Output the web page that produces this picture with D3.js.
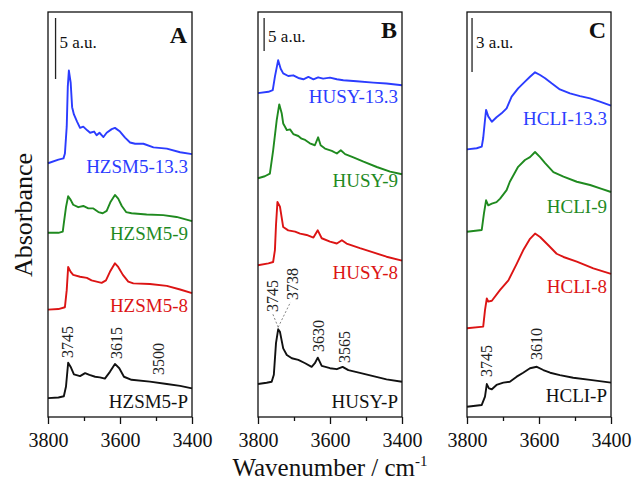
<!DOCTYPE html>
<html>
<head>
<meta charset="utf-8">
<script src="https://cdn.jsdelivr.net/npm/d3@7"></script>
<style>
  html, body { margin: 0; padding: 0; background: #fff; }
  svg { display: block; font-family: "Liberation Serif", "Times New Roman", serif; }
</style>
</head>
<body>
<svg id="chart" width="633" height="481"></svg>
<script>
// ---------------- DATA ----------------
const panelLetters = ["A", "B", "C"];
const majorTicks = [3800, 3600, 3400];
const minorTicks = [3700, 3500];
const scaleBarValues = [5, 5, 3];

const namesA = ["HZSM5-13.3", "HZSM5-9", "HZSM5-8", "HZSM5-P"];
const namesB = ["HUSY-13.3", "HUSY-9", "HUSY-8", "HUSY-P"];
const namesC = ["HCLI-13.3", "HCLI-9", "HCLI-8", "HCLI-P"];

// [wavenumber (cm-1), absorbance (a.u., stacked)]
const hzsm5_133 = [[3800,20.8],[3771,21.1],[3757,21.2],[3753,21.6],[3748,23.8],[3745,27.1],[3742,28.4],[3737,27.4],[3733,25.4],[3728,24.8],[3719,24.2],[3711,23.7],[3702,23.8],[3691,23.5],[3683,23.3],[3672,23.4],[3665,23.1],[3657,23.3],[3646,22.95],[3637,23.3],[3623,23.6],[3614,23.7],[3600,23.4],[3586,22.9],[3572,22.5],[3558,22.4],[3535,22.4],[3507,22.1],[3470,22.0],[3433,21.7],[3400,21.55]];
const hzsm5_9 = [[3800,15.1],[3771,15.1],[3759,15.2],[3756,15.9],[3750,17.2],[3744,18.1],[3737,17.8],[3730,17.4],[3716,17.2],[3702,17.3],[3688,17.1],[3674,17.1],[3660,16.8],[3648,16.7],[3637,16.9],[3626,17.65],[3614,18.2],[3605,17.9],[3595,17.3],[3583,16.8],[3568,16.7],[3526,16.6],[3480,16.55],[3443,16.4],[3400,16.05]];
const hzsm5_8 = [[3800,8.8],[3771,8.85],[3753,9.0],[3748,10.4],[3744,12.3],[3737,11.9],[3730,11.65],[3711,11.5],[3692,11.4],[3679,11.2],[3665,11.1],[3651,11.0],[3639,11.2],[3628,11.9],[3614,12.6],[3605,12.3],[3592,11.65],[3577,11.1],[3563,10.95],[3517,10.9],[3470,10.75],[3433,10.45],[3400,10.15]];
const hzsm5_p = [[3800,1.55],[3771,1.6],[3756,1.7],[3750,2.5],[3744,4.45],[3737,4.1],[3728,3.5],[3711,3.35],[3697,3.6],[3685,3.45],[3669,3.3],[3656,3.25],[3642,3.15],[3628,3.7],[3614,4.35],[3602,4.0],[3589,3.3],[3568,3.05],[3517,2.9],[3470,2.7],[3433,2.55],[3400,2.35]];

const husy_133 = [[3800,49.1],[3771,49.3],[3759,49.55],[3753,51.6],[3744,54.1],[3737,52.8],[3730,52.1],[3716,51.7],[3702,51.8],[3688,51.4],[3674,51.2],[3660,51.55],[3646,51.2],[3633,51.5],[3619,51.3],[3600,51.45],[3581,51.2],[3563,51.05],[3526,50.9],[3480,50.7],[3443,50.55],[3400,50.3]];
const husy_9 = [[3800,36.2],[3781,36.5],[3767,36.9],[3758,40.4],[3748,45.0],[3741,47.4],[3734,46.0],[3730,44.5],[3720,43.5],[3711,43.6],[3702,42.9],[3688,42.6],[3679,42.2],[3669,42.0],[3656,41.5],[3642,41.2],[3633,42.4],[3626,41.2],[3614,40.7],[3595,40.35],[3581,39.95],[3570,40.45],[3558,39.85],[3535,39.35],[3507,38.7],[3470,37.9],[3433,37.2],[3400,36.8]];
const husy_8 = [[3800,23.0],[3771,23.3],[3758,23.5],[3753,25.3],[3750,29.1],[3746,32.6],[3739,31.9],[3730,28.8],[3716,28.3],[3697,28.1],[3683,27.8],[3665,27.6],[3646,27.2],[3634,28.3],[3623,27.1],[3600,26.6],[3581,26.3],[3567,26.8],[3554,26.3],[3517,25.6],[3480,24.95],[3443,24.3],[3400,23.7]];
const husy_p = [[3800,5.0],[3776,5.2],[3762,5.35],[3756,6.4],[3750,11.2],[3744,13.3],[3739,12.9],[3730,10.4],[3720,9.4],[3706,8.9],[3688,8.65],[3669,8.15],[3651,7.6],[3642,8.15],[3634,9.0],[3623,7.75],[3600,7.4],[3581,7.25],[3565,7.6],[3549,7.1],[3517,6.7],[3480,6.2],[3443,5.7],[3400,5.35]];

const hcli_133 = [[3800,14.87],[3773,14.93],[3759,15.02],[3755,15.5],[3750,16.5],[3747,17.06],[3741,16.7],[3731,16.4],[3718,16.65],[3704,16.87],[3690,17.15],[3676,17.8],[3658,18.26],[3639,18.63],[3625,18.9],[3611,19.15],[3597,19.0],[3583,18.82],[3565,18.54],[3542,18.2],[3514,17.98],[3486,17.83],[3458,17.7],[3431,17.52],[3400,17.3]];
const hcli_9 = [[3800,10.29],[3759,10.39],[3753,11.3],[3747,12.04],[3741,11.76],[3731,11.85],[3718,11.94],[3708,12.13],[3690,12.6],[3681,13.07],[3658,13.9],[3639,14.28],[3625,14.44],[3611,14.72],[3597,14.44],[3583,14.11],[3560,13.61],[3532,13.35],[3495,13.07],[3458,12.89],[3426,12.67],[3400,12.5]];
const hcli_8 = [[3800,4.93],[3755,5.02],[3750,5.94],[3745,6.59],[3741,6.41],[3731,6.46],[3708,7.06],[3685,7.59],[3662,8.51],[3644,9.26],[3625,9.9],[3611,10.19],[3597,10.0],[3574,9.54],[3551,9.07],[3532,8.89],[3495,8.63],[3449,8.26],[3400,7.95]];
const hcli_p = [[3800,0.57],[3759,0.67],[3750,1.13],[3745,1.83],[3739,1.59],[3731,1.54],[3718,1.78],[3699,1.91],[3681,1.96],[3662,2.24],[3644,2.46],[3625,2.71],[3606,2.79],[3588,2.61],[3569,2.46],[3542,2.33],[3505,2.18],[3458,2.06],[3400,1.91]];

const seriesA = [hzsm5_133, hzsm5_9, hzsm5_8, hzsm5_p];
const seriesB = [husy_133, husy_9, husy_8, husy_p];
const seriesC = [hcli_133, hcli_9, hcli_8, hcli_p];

// peak annotations (wavenumber label)
const peaksA = ["3745", "3615", "3500"];
const peaksB = ["3745", "3738", "3630", "3565"];
const peaksC = ["3745", "3610"];

// ---------------- LAYOUT / STYLE ----------------
const colors = ["#2b3cff", "#1f8a1f", "#dc1414", "#111111"];
const panelsLayout = [
  { left: 48,  yMax: 33.2, names: namesA, series: seriesA, peaks: peaksA,
    peakX: [3745, 3610, 3493], peakBottom: [358, 359, 375],
    labelY: [173, 240, 312, 408], barWn: 3779, barTextDx: 4, letterY: 43 },
  { left: 258, yMax: 61.4, names: namesB, series: seriesB, peaks: peaksB,
    peakX: [3760, 3704, 3632, 3560], peakBottom: [312, 300, 352, 363],
    labelY: [103, 187, 279, 408], barWn: 3783, barTextDx: 4, letterY: 38 },
  { left: 467, yMax: 22.5, names: namesC, series: seriesC, peaks: peaksC,
    peakX: [3747, 3608], peakBottom: [377, 360],
    labelY: [125, 213, 293, 402], barWn: 3786, barTextDx: 4, letterY: 38 }
];
const frameTop = 12, frameHeight = 405, frameWidth = 144;

const svg = d3.select("#chart");

panelsLayout.forEach((p, i) => {
  const x = d3.scaleLinear().domain([3800, 3400]).range([p.left, p.left + frameWidth]);
  const y = d3.scaleLinear().domain([0, p.yMax]).range([frameTop + frameHeight, frameTop]);
  const g = svg.append("g");

  // curves
  const line = d3.line().x(d => x(d[0])).y(d => y(d[1])).curve(d3.curveLinear);
  p.series.forEach((s, j) => {
    g.append("path").datum(s)
      .attr("d", line)
      .attr("fill", "none")
      .attr("stroke", colors[j])
      .attr("stroke-width", 1.9)
      .attr("stroke-linejoin", "round");
  });

  // series labels
  p.names.forEach((n, j) => {
    g.append("text")
      .attr("x", p.left + frameWidth - 4)
      .attr("y", p.labelY[j])
      .attr("text-anchor", "end")
      .attr("font-size", 19)
      .attr("fill", colors[j])
      .text(n);
  });

  // peak annotations
  p.peaks.forEach((t, j) => {
    const px = x(p.peakX[j]);
    g.append("text")
      .attr("transform", `translate(${px},${p.peakBottom[j]}) rotate(-90)`)
      .attr("dy", "0.35em")
      .attr("font-size", 16)
      .attr("fill", "#222")
      .text(t);
  });

  // scale bar
  const bx = x(p.barWn);
  const barTop = 18;
  const barLen = y(0) - y(scaleBarValues[i]);
  g.append("line")
    .attr("x1", bx).attr("x2", bx)
    .attr("y1", barTop).attr("y2", barTop + barLen)
    .attr("stroke", "#222").attr("stroke-width", 1.3);
  g.append("text")
    .attr("x", bx + p.barTextDx)
    .attr("y", i === 1 ? 42 : 48)
    .attr("font-size", 17)
    .attr("fill", "#111")
    .text(scaleBarValues[i] + " a.u.");

  // panel letter
  g.append("text")
    .attr("x", p.left + frameWidth - 5)
    .attr("y", p.letterY)
    .attr("text-anchor", "end")
    .attr("font-size", 24)
    .attr("font-weight", "bold")
    .attr("fill", "#111")
    .text(panelLetters[i]);

  // frame
  g.append("rect")
    .attr("x", p.left).attr("y", frameTop)
    .attr("width", frameWidth).attr("height", frameHeight)
    .attr("fill", "none").attr("stroke", "#111").attr("stroke-width", 1.3);

  // axis
  const axis = d3.axisBottom(x).tickValues(majorTicks).tickSize(7).tickPadding(9)
    .tickSizeOuter(0).tickFormat(d3.format("d"));
  const ax = g.append("g").attr("transform", `translate(0,${frameTop + frameHeight})`).call(axis);
  ax.select(".domain").remove();
  ax.selectAll("line").attr("stroke", "#111").attr("stroke-width", 1.3);
  ax.selectAll("text").attr("font-size", 20).attr("fill", "#111")
    .attr("font-family", "Liberation Serif, serif");

  const minor = d3.axisBottom(x).tickValues(minorTicks).tickSize(4).tickFormat("").tickSizeOuter(0);
  const mx = g.append("g").attr("transform", `translate(0,${frameTop + frameHeight})`).call(minor);
  mx.select(".domain").remove();
  mx.selectAll("line").attr("stroke", "#111").attr("stroke-width", 1.3);

  // dotted guide lines in panel B
  if (i === 1) {
    const peakPt = husy_p.find(d => d[0] === 3744);
    const px = x(peakPt[0]), py = y(peakPt[1]);
    [[x(3760), 313], [x(3704) - 2, 302]].forEach(e => {
      g.append("line")
        .attr("x1", px).attr("y1", py - 2)
        .attr("x2", e[0]).attr("y2", e[1])
        .attr("stroke", "#777").attr("stroke-width", 0.9)
        .attr("stroke-dasharray", "2,2");
    });
  }
});

// axis titles
svg.append("text")
  .attr("transform", "translate(32,215) rotate(-90)")
  .attr("text-anchor", "middle")
  .attr("font-size", 26)
  .attr("fill", "#111")
  .text("Absorbance");

const xt = svg.append("text")
  .attr("x", 330).attr("y", 476)
  .attr("text-anchor", "middle")
  .attr("font-size", 25)
  .attr("fill", "#111");
xt.append("tspan").text("Wavenumber / cm");
xt.append("tspan").attr("font-size", 15).attr("dy", -10).text("-1");
</script>
</body>
</html>
